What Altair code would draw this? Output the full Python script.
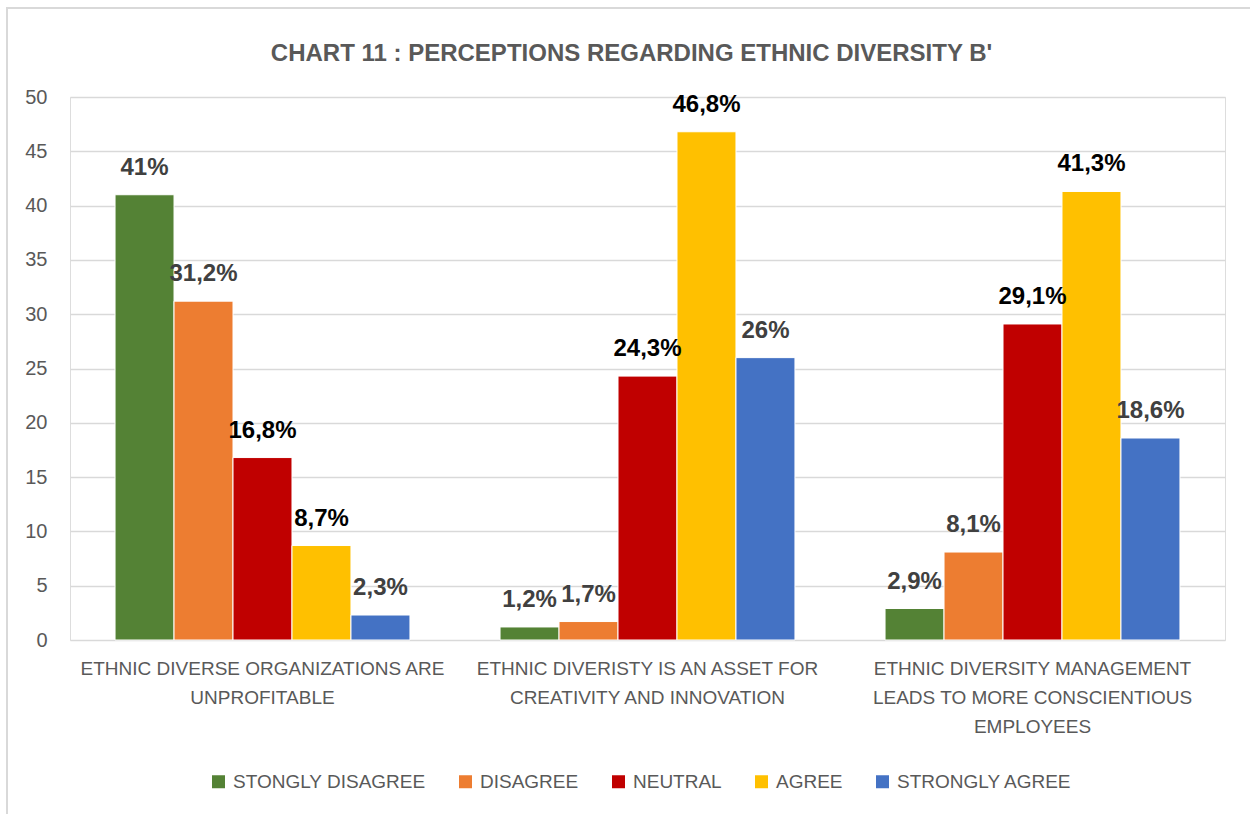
import json
import altair as alt
import pandas as pd

categories = [
    "ETHNIC DIVERSE ORGANIZATIONS ARE UNPROFITABLE",
    "ETHNIC DIVERISTY IS AN ASSET FOR CREATIVITY AND INNOVATION",
    "ETHNIC DIVERSITY MANAGEMENT LEADS TO MORE CONSCIENTIOUS EMPLOYEES",
]
category_lines = [
    ["ETHNIC DIVERSE ORGANIZATIONS ARE", "UNPROFITABLE"],
    ["ETHNIC DIVERISTY IS AN ASSET FOR", "CREATIVITY AND INNOVATION"],
    ["ETHNIC DIVERSITY MANAGEMENT", "LEADS TO MORE CONSCIENTIOUS", "EMPLOYEES"],
]
responses = ["STONGLY DISAGREE", "DISAGREE", "NEUTRAL", "AGREE", "STRONGLY AGREE"]
strongly_disagree = [41, 1.2, 2.9]
disagree = [31.2, 1.7, 8.1]
neutral = [16.8, 24.3, 29.1]
agree = [8.7, 46.8, 41.3]
strongly_agree = [2.3, 26, 18.6]
colors = ["#548235", "#ED7D31", "#C00000", "#FFC000", "#4472C4"]
y_ticks = [0, 5, 10, 15, 20, 25, 30, 35, 40, 45, 50]

series = [strongly_disagree, disagree, neutral, agree, strongly_agree]
rows = []
for r, vals in zip(responses, series):
    for c, v in zip(categories, vals):
        rows.append({"Category": c, "Response": r, "Value": v})
df = pd.DataFrame(rows)

label_expr = ""
for c, lines in zip(categories[:-1], category_lines[:-1]):
    label_expr += f"datum.value == {json.dumps(c)} ? {json.dumps(lines)} : "
label_expr += json.dumps(category_lines[-1])

W, H = 1155, 543
PL, PT = 70, 97
TOTAL_W, TOTAL_H = 1250, 814
FONT = "Liberation Sans"

base = alt.Chart(df).encode(
    x=alt.X(
        "Category:N",
        sort=categories,
        scale=alt.Scale(paddingInner=0.234, paddingOuter=0.117),
        axis=alt.Axis(
            title=None,
            labelAngle=0,
            labelExpr=label_expr,
            labelFont=FONT,
            labelFontSize=19,
            labelLineHeight=29,
            labelColor="#595959",
            labelBaseline="top",
            labelPadding=19,
            labelLimit=0,
            domain=False,
            ticks=False,
            grid=False,
        ),
    ),
    xOffset=alt.XOffset(
        "Response:N",
        sort=responses,
        scale=alt.Scale(paddingInner=0, paddingOuter=0),
    ),
    y=alt.Y(
        "Value:Q",
        scale=alt.Scale(domain=[0, 50], nice=False),
        axis=alt.Axis(
            title=None,
            values=y_ticks,
            labelFont=FONT,
            labelFontSize=20,
            labelColor="#595959",
            labelPadding=23,
            domain=False,
            ticks=False,
            grid=True,
            gridColor="#d9d9d9",
            gridWidth=1.5,
        ),
    ),
)

bars = base.mark_bar(stroke="white", strokeWidth=1).encode(
    color=alt.Color(
        "Response:N",
        sort=responses,
        scale=alt.Scale(domain=responses, range=colors),
        legend=alt.Legend(
            title=None,
            orient="none",
            direction="horizontal",
            legendX=139,
            legendY=675,
            symbolType="square",
            symbolSize=169,
            symbolStrokeWidth=0,
            labelFont=FONT,
            labelFontSize=19,
            labelColor="#595959",
            labelOffset=5,
            labelLimit=0,
            columnPadding=30,
            padding=0,
        ),
    )
)

labels = base.transform_calculate(
    label="replace(toString(datum.Value), '.', ',') + '%'"
).mark_text(
    font=FONT,
    fontSize=24,
    fontWeight="bold",
    baseline="alphabetic",
    align="center",
    dy=-20,
).encode(
    text="label:N",
    color=alt.condition(
        "datum.Response == 'NEUTRAL' || datum.Response == 'AGREE'",
        alt.value("#000000"),
        alt.value("#404040"),
    ),
)

border = alt.Chart(alt.Data(values=[{"a": 1}])).mark_rect(
    fillOpacity=0, stroke="#d9d9d9", strokeWidth=2
).encode(
    x=alt.value(7 - PL),
    x2=alt.value(TOTAL_W - PL + 10),
    y=alt.value(8 - PT),
    y2=alt.value(TOTAL_H - PT + 10),
)

chart = alt.layer(border, bars, labels).properties(
    width=W,
    height=H,
    autosize=alt.AutoSizeParams(type="none"),
    padding={"left": PL, "top": PT, "right": TOTAL_W - PL - W, "bottom": TOTAL_H - PT - H},
    title=alt.TitleParams(
        text="CHART 11 : PERCEPTIONS REGARDING ETHNIC DIVERSITY B'",
        font=FONT,
        fontSize=24,
        fontWeight="bold",
        color="#595959",
        anchor="middle",
        frame="group",
        dx=-16,
        baseline="alphabetic",
        offset=-78,
    ),
).configure_view(stroke=None).configure(background="white")

chart.save("out.html", embed_options={"renderer": "svg", "actions": False})
